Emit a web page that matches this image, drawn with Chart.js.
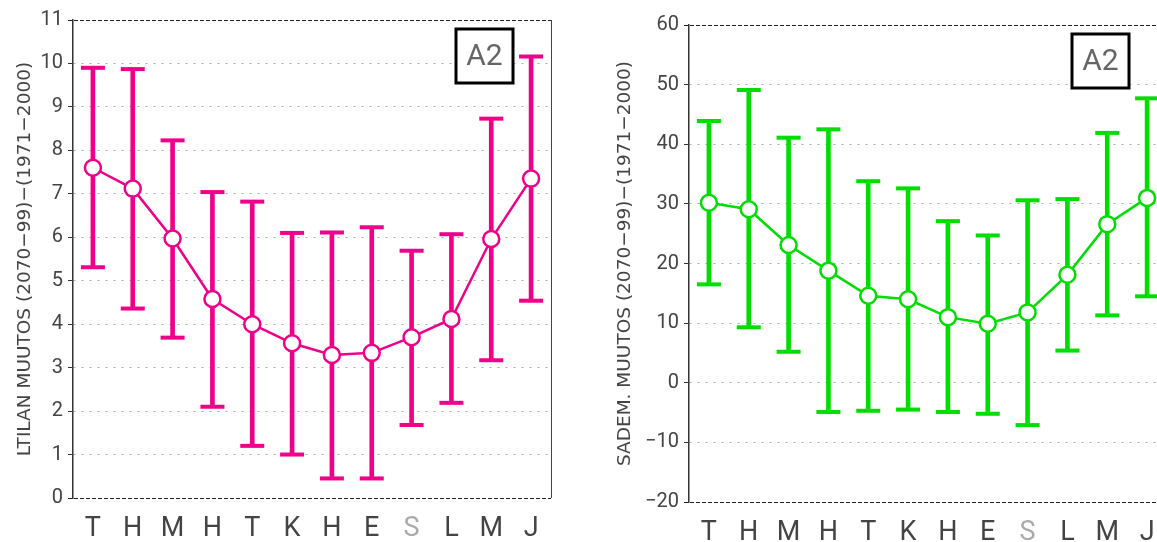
<!DOCTYPE html>
<html>
<head>
<meta charset="utf-8">
<script src="https://cdn.jsdelivr.net/npm/chart.js@4"></script>
<style>
    body { margin: 0; background: #fff; overflow: hidden; width: 1157px; height: 542px; }
    #grafica-lampo { position: absolute; left: 0; top: 0; }
    #grafica-sade { position: absolute; left: 600px; top: 0; }
</style>
</head>
<body>
<canvas id="grafica-lampo" width="600" height="542"></canvas>
<canvas id="grafica-sade" width="600" height="542"></canvas>
<script>
// Kuukaudet (tammikuu ... joulukuu)
const meses = ['T', 'H', 'M', 'H', 'T', 'K', 'H', 'E', 'S', 'L', 'M', 'J'];

// Lämpötilan muutos (°C)
const lampoKeski = [7.6, 7.12, 5.97, 4.58, 4.0, 3.56, 3.29, 3.34, 3.7, 4.12, 5.96, 7.35];
const lampoYla = [9.9, 9.87, 8.23, 7.04, 6.82, 6.1, 6.11, 6.23, 5.69, 6.07, 8.73, 10.16];
const lampoAla = [5.31, 4.36, 3.69, 2.1, 1.2, 1.0, 0.45, 0.45, 1.68, 2.19, 3.17, 4.54];

// Sademäärän muutos (%)
const sadeKeski = [30.2, 29.1, 23.1, 18.8, 14.6, 14.0, 11.0, 9.9, 11.8, 18.1, 26.6, 31.0];
const sadeYla = [43.9, 49.1, 41.1, 42.5, 33.8, 32.6, 27.1, 24.7, 30.6, 30.8, 41.9, 47.7];
const sadeAla = [16.5, 9.3, 5.2, -4.9, -4.7, -4.5, -4.9, -5.2, -7.1, 5.4, 11.3, 14.5];

const FUENTE = 'Roboto, "Liberation Sans", sans-serif';

// Marco: líneas discontinuas arriba/abajo, borde derecho y caja "A2"
const marcoPlugin = {
    id: 'marco',
    afterDraw(chart) {
        const { ctx, chartArea: a } = chart;
        ctx.save();
        ctx.strokeStyle = '#222';
        ctx.lineWidth = 1;
        ctx.setLineDash([4, 2]);
        ctx.beginPath();
        ctx.moveTo(a.left - 5, a.top + 0.5);
        ctx.lineTo(a.right, a.top + 0.5);
        ctx.moveTo(a.left - 5, a.bottom + 0.5);
        ctx.lineTo(a.right, a.bottom + 0.5);
        ctx.stroke();
        ctx.setLineDash([]);
        ctx.strokeStyle = '#444';
        ctx.beginPath();
        ctx.moveTo(a.right + 0.5, a.top);
        ctx.lineTo(a.right + 0.5, a.bottom);
        ctx.stroke();

        // caja A2
        const bx = a.right - 95, by = a.top + 9;
        ctx.lineWidth = 3;
        ctx.strokeStyle = '#000';
        ctx.fillStyle = '#fff';
        ctx.fillRect(bx, by, 57, 54);
        ctx.strokeRect(bx, by, 57, 54);
        ctx.fillStyle = '#666';
        ctx.font = '30px ' + FUENTE;
        ctx.textAlign = 'center';
        ctx.textBaseline = 'middle';
        ctx.fillText('A2', bx + 28.5, by + 28);
        ctx.restore();
    }
};

function crearGrafica(id, cfg) {
    const ctx = document.getElementById(id).getContext('2d');
    const capa = (data) => ({
        type: 'line',
        data: data,
        showLine: false,
        pointStyle: 'line',
        pointRadius: 12,
        pointBorderWidth: 4,
        pointBorderColor: cfg.color,
        order: 2,
    });
    return new Chart(ctx, {
        type: 'bar',
        data: {
            labels: meses,
            datasets: [
                {
                    type: 'line',
                    data: cfg.keski,
                    borderColor: cfg.color,
                    borderWidth: 2.5,
                    pointRadius: 8,
                    pointBorderWidth: 2.5,
                    pointBackgroundColor: '#fff',
                    pointBorderColor: cfg.color,
                    order: 0,
                },
                {
                    data: cfg.ala.map((v, i) => [v, cfg.yla[i]]),
                    backgroundColor: cfg.color,
                    barThickness: 4,
                    order: 3,
                },
                capa(cfg.yla),
                capa(cfg.ala),
            ],
        },
        options: {
            responsive: false,
            animation: false,
            layout: { padding: { left: 0, top: cfg.arriba, right: cfg.derecha, bottom: 0 } },
            plugins: { legend: { display: false }, tooltip: { enabled: false } },
            scales: {
                x: {
                    offset: true,
                    grid: { display: false, drawTicks: false },
                    border: { display: false },
                    ticks: {
                        padding: 15,
                        font: { family: FUENTE, size: 27 },
                        color: c => (c.index === 8 ? '#aaa' : '#444'),
                    },
                    afterFit: s => { s.height = cfg.altoX; },
                },
                y: {
                    min: cfg.min,
                    max: cfg.max,
                    ticks: {
                        stepSize: cfg.paso,
                        padding: 5,
                        font: { family: FUENTE, size: 20 },
                        color: '#444',
                        callback: v => (v < 0 ? '\u2212' + Math.abs(v) : v),
                    },
                    grid: {
                        color: c => (c.tick && (c.tick.value === cfg.min || c.tick.value === cfg.max) ? 'rgba(0,0,0,0)' : '#aaa'),
                        lineWidth: 1,
                        tickLength: 5,
                        tickColor: '#333',
                    },
                    border: { display: true, color: '#333', width: 1.5, dash: [2, 6] },
                    title: {
                        display: true,
                        text: cfg.titulo,
                        color: '#444',
                        font: { family: '"DejaVu Sans", sans-serif', size: 18.5 },
                        padding: { top: 14, bottom: 0 },
                    },
                    afterFit: s => { s.width = cfg.anchoY; },
                },
            },
        },
        plugins: [marcoPlugin],
    });
}

crearGrafica('grafica-lampo', {
    color: '#f0008a',
    keski: lampoKeski, yla: lampoYla, ala: lampoAla,
    min: 0, max: 11, paso: 1,
    titulo: 'LTILAN MUUTOS (2070\u221299)\u2212(1971\u22122000)',
    arriba: 20, derecha: 49, altoX: 44, anchoY: 73,
});

crearGrafica('grafica-sade', {
    color: '#00dd00',
    keski: sadeKeski, yla: sadeYla, ala: sadeAla,
    min: -20, max: 60, paso: 10,
    titulo: 'SADEM. MUUTOS (2070\u221299)\u2212(1971\u22122000)',
    arriba: 25, derecha: 33, altoX: 40, anchoY: 89,
});
</script>
</body>
</html>
